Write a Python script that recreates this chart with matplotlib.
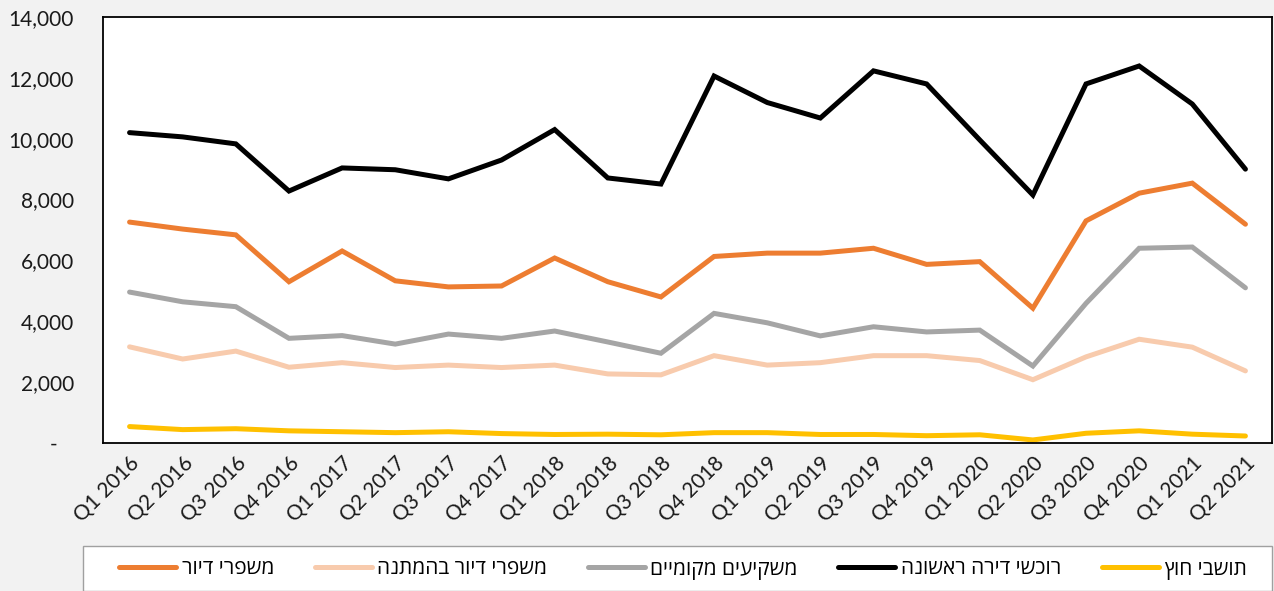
import matplotlib
matplotlib.use("Agg")
import matplotlib.pyplot as plt
from matplotlib.ticker import FuncFormatter
from matplotlib.patches import Rectangle

plt.rcParams['font.family'] = ['Lato', 'Open Sans', 'DejaVu Sans']

quarters = ["Q1 2016", "Q2 2016", "Q3 2016", "Q4 2016",
            "Q1 2017", "Q2 2017", "Q3 2017", "Q4 2017",
            "Q1 2018", "Q2 2018", "Q3 2018", "Q4 2018",
            "Q1 2019", "Q2 2019", "Q3 2019", "Q4 2019",
            "Q1 2020", "Q2 2020", "Q3 2020", "Q4 2020",
            "Q1 2021", "Q2 2021"]

upgraders = [7260, 7030, 6840, 5300, 6310, 5330, 5130, 5160, 6080, 5300, 4800,
             6130, 6240, 6240, 6400, 5870, 5960, 4430, 7300, 8210, 8540, 7190]
upgraders_pending = [3160, 2760, 3020, 2490, 2640, 2480, 2560, 2480, 2560, 2270, 2240,
                     2870, 2560, 2640, 2870, 2870, 2710, 2080, 2830, 3410, 3150, 2370]
investors = [4960, 4640, 4480, 3440, 3530, 3250, 3580, 3440, 3680, 3320, 2950,
             4260, 3950, 3520, 3820, 3650, 3710, 2530, 4590, 6400, 6440, 5100]
first_home = [10200, 10060, 9830, 8280, 9040, 8980, 8680, 9300, 10300, 8710, 8510,
              12060, 11190, 10680, 12230, 11800, 9960, 8150, 11800, 12390, 11140, 9000]
foreign = [540, 440, 470, 400, 370, 340, 370, 310, 280, 290, 270,
           340, 340, 280, 280, 240, 270, 100, 320, 400, 290, 230]

names = ["משפרי דיור", "משפרי דיור בהמתנה", "משקיעים מקומיים",
         "רוכשי דירה ראשונה", "תושבי חוץ"]
series = [upgraders, upgraders_pending, investors, first_home, foreign]
colors = ["#ED7D31", "#F8CBAD", "#A5A5A5", "#000000", "#FFC000"]

def vis(s):
    # matplotlib has no bidi support; reverse for right-to-left display
    return s[::-1]

fig = plt.figure(figsize=(12.74, 5.91), dpi=100, facecolor="#F2F2F2")
ax = fig.add_axes([103/1274, 1-443/591, 1169/1274, 426/591])
ax.set_facecolor("white")

x = list(range(len(quarters)))
handles = []
for name, vals, c in zip(names, series, colors):
    h, = ax.plot(x, vals, color=c, lw=3.6, solid_capstyle='round',
                 solid_joinstyle='miter', label=vis(name))
    handles.append(h)

ax.set_xlim(-0.5, len(quarters) - 0.5)
ax.set_ylim(0, 14000)
ax.set_yticks(range(0, 14001, 2000))
ax.yaxis.set_major_formatter(FuncFormatter(lambda v, p: "-   " if v == 0 else f"{int(v):,}"))
ax.set_xticks(x)
ax.set_xticklabels(quarters, rotation=45, ha='right', va='top', rotation_mode='anchor')
ax.tick_params(axis='both', length=0, labelsize=15, colors="#1a1a1a")
ax.tick_params(axis='y', pad=21)
ax.tick_params(axis='x', pad=7)
for sp in ax.spines.values():
    sp.set_color("black")
    sp.set_linewidth(1.3)

fig.patches.append(Rectangle((83/1274, 0.5/591), 1189/1274, 45/591,
                             transform=fig.transFigure, facecolor="white",
                             edgecolor="#A0A0A0", linewidth=1.0, zorder=0))
leg = fig.legend(handles=handles, loc='center', ncol=5,
                 bbox_to_anchor=(683/1274, 22/591),
                 frameon=False, handlelength=2.75,
                 handletextpad=0.25, columnspacing=1.95, borderaxespad=0,
                 prop={'family': ['Open Sans', 'DejaVu Sans'], 'size': 15})

fig.savefig("out.png", dpi=100, facecolor=fig.get_facecolor())
